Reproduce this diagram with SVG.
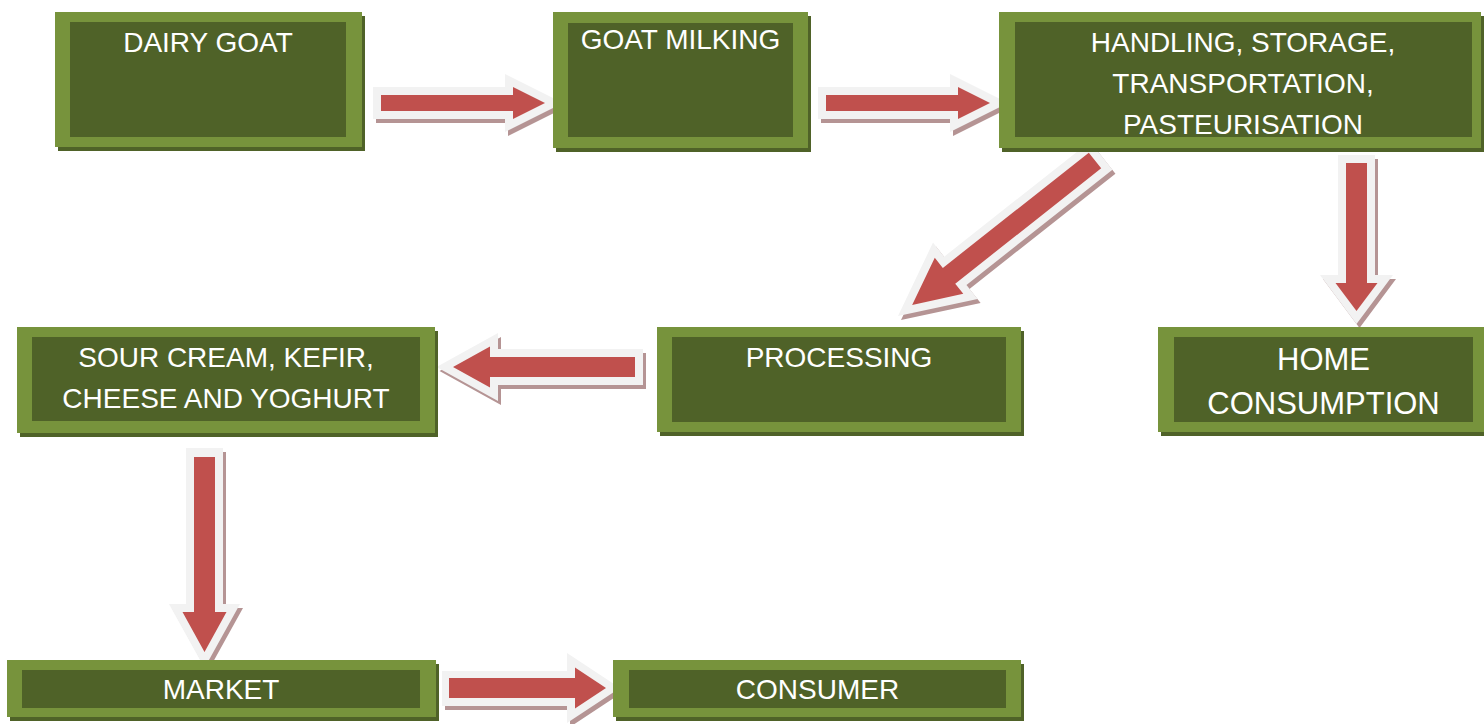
<svg xmlns="http://www.w3.org/2000/svg" width="1484" height="724" viewBox="0 0 1484 724">
<style>
.outer{fill:#77933C}
.inner{fill:#4F6228}
.shadow{fill:#4F6228}
.lbl{font-family:"Liberation Sans",Arial,sans-serif;font-size:28px;fill:#FFFFFF;text-anchor:middle}
.big{font-size:31px}
.ash{fill:#B59494}
.aw{fill:#F2F2F2}
.ar{fill:#C0504D}
</style>
<rect width="1484" height="724" fill="#FFFFFF"/>
<g id="connectors">
  <g id="a1">
    <polygon class="ash" transform="translate(3,4)" points="373,87 505,87 505,74 563,103 505,132 505,119 373,119"/>
    <polygon class="aw" points="373,87 505,87 505,74 563,103 505,132 505,119 373,119"/>
    <polygon class="ar" points="381,95 513,95 513,87 545,103 513,119 513,111 381,111"/>
  </g>
  <g id="a2" transform="translate(445,0)">
    <polygon class="ash" transform="translate(3,4)" points="373,87 505,87 505,74 563,103 505,132 505,119 373,119"/>
    <polygon class="aw" points="373,87 505,87 505,74 563,103 505,132 505,119 373,119"/>
    <polygon class="ar" points="381,95 513,95 513,87 545,103 513,119 513,111 381,111"/>
  </g>
  <g id="a3">
    <g transform="translate(3,4)"><polygon class="ash" transform="translate(1095,160.5) rotate(141.7)" points="-8,-18 178,-18 178,-36 251,0 178,36 178,18 -8,18"/></g>
    <polygon class="aw" transform="translate(1095,160.5) rotate(141.7)" points="-8,-18 178,-18 178,-36 251,0 178,36 178,18 -8,18"/>
    <polygon class="ar" transform="translate(1095,160.5) rotate(141.7)" points="0,-10 186,-10 186,-23 233,0 186,23 186,10 0,10"/>
  </g>
  <g id="a4">
    <polygon class="ash" transform="translate(3,4)" points="1338,155 1375,155 1375,275 1393,275 1356.5,324 1320,275 1338,275"/>
    <polygon class="aw" points="1338,155 1375,155 1375,275 1393,275 1356.5,324 1320,275 1338,275"/>
    <polygon class="ar" points="1346,163 1367,163 1367,283 1377.5,283 1356.5,311 1335.5,283 1346,283"/>
  </g>
  <g id="a5">
    <polygon class="ash" transform="translate(3,4)" points="643,349 498,349 498,333 436.5,367 498,401 498,385 643,385"/>
    <polygon class="aw" points="643,349 498,349 498,333 436.5,367 498,401 498,385 643,385"/>
    <polygon class="ar" points="635,357 490,357 490,346.5 453,367 490,387.5 490,377 635,377"/>
  </g>
  <g id="a6">
    <polygon class="ash" transform="translate(3,4)" points="186,448 223,448 223,604 240,604 204.5,668 169,604 186,604"/>
    <polygon class="aw" points="186,448 223,448 223,604 240,604 204.5,668 169,604 186,604"/>
    <polygon class="ar" points="194,457 215,457 215,612 226.5,612 204.5,652 182.5,612 194,612"/>
  </g>
  <g id="a7">
    <polygon class="ash" transform="translate(3,4)" points="442,671 567,671 567,653 620,688 567,723 567,706 442,706"/>
    <polygon class="aw" points="442,671 567,671 567,653 620,688 567,723 567,706 442,706"/>
    <polygon class="ar" points="449,678 575,678 575,667.5 606,688 575,708.5 575,698 449,698"/>
  </g>
</g>
<g id="n-dairy-goat">
  <rect class="shadow" x="58" y="16" width="307" height="135"/>
  <rect class="outer" x="55" y="12" width="307" height="135"/>
  <rect class="inner" x="70" y="22" width="276" height="115"/>
  <text class="lbl" x="208" y="52">DAIRY GOAT</text>
</g>
<g id="n-goat-milking">
  <rect class="shadow" x="556" y="16" width="255" height="136"/>
  <rect class="outer" x="553" y="12" width="255" height="136"/>
  <rect class="inner" x="568" y="23" width="225" height="114"/>
  <text class="lbl" x="680.5" y="49">GOAT MILKING</text>
</g>
<g id="n-handling">
  <rect class="shadow" x="1002" y="16" width="482" height="136"/>
  <rect class="outer" x="999" y="12" width="482" height="136"/>
  <rect class="inner" x="1015" y="22" width="457" height="115"/>
  <text class="lbl" x="1243" y="52">HANDLING, STORAGE,</text>
  <text class="lbl" x="1243" y="93">TRANSPORTATION,</text>
  <text class="lbl" x="1243" y="134">PASTEURISATION</text>
</g>
<g id="n-home">
  <rect class="shadow" x="1161" y="331" width="330" height="105"/>
  <rect class="outer" x="1158" y="327" width="330" height="105"/>
  <rect class="inner" x="1174" y="337" width="299" height="85"/>
  <text class="lbl big" x="1323.5" y="370">HOME</text>
  <text class="lbl big" x="1323.5" y="414">CONSUMPTION</text>
</g>
<g id="n-processing">
  <rect class="shadow" x="660" y="331" width="364" height="105"/>
  <rect class="outer" x="657" y="327" width="364" height="105"/>
  <rect class="inner" x="672" y="337" width="334" height="85"/>
  <text class="lbl" x="839" y="367">PROCESSING</text>
</g>
<g id="n-sour-cream">
  <rect class="shadow" x="20" y="331" width="418" height="106"/>
  <rect class="outer" x="17" y="327" width="418" height="106"/>
  <rect class="inner" x="32" y="337" width="388" height="84"/>
  <text class="lbl" x="226" y="367">SOUR CREAM, KEFIR,</text>
  <text class="lbl" x="226" y="408">CHEESE AND YOGHURT</text>
</g>
<g id="n-market">
  <rect class="shadow" x="10" y="664" width="429" height="57"/>
  <rect class="outer" x="7" y="660" width="429" height="57"/>
  <rect class="inner" x="22" y="670" width="398" height="38"/>
  <text class="lbl" x="221" y="699">MARKET</text>
</g>
<g id="n-consumer">
  <rect class="shadow" x="616" y="664" width="408" height="57"/>
  <rect class="outer" x="613" y="660" width="408" height="57"/>
  <rect class="inner" x="629" y="670" width="377" height="38"/>
  <text class="lbl" x="817.5" y="699">CONSUMER</text>
</g>
</svg>
